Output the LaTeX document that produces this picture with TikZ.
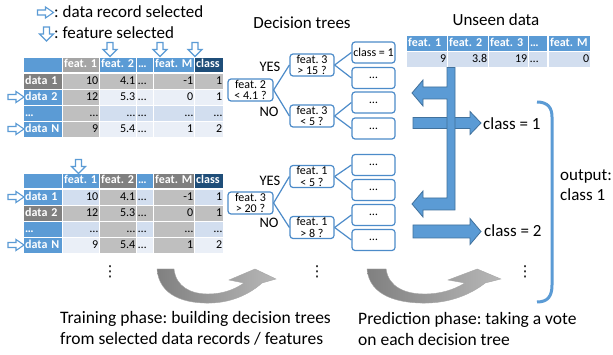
\documentclass[tikz,border=0pt]{standalone}
\usepackage{fontspec}
\setmainfont{Carlito}
\newfontfamily\dvfont{DejaVu Sans}
\definecolor{hb}{HTML}{5B9BD5}
\definecolor{hdk}{HTML}{1F4E79}
\definecolor{hg}{HTML}{A5A5A5}
\definecolor{lg}{HTML}{808080}
\definecolor{cg}{HTML}{BFBFBF}
\definecolor{lo}{HTML}{D2DEEF}
\definecolor{le}{HTML}{EAEFF7}
\definecolor{tb}{HTML}{4C8BC9}
\definecolor{ao}{HTML}{41719C}
\begin{document}
\frenchspacing
\begin{tikzpicture}[x=1pt,y=-1pt,
 tc/.style={anchor=north west, inner xsep=1pt, inner ysep=0pt, minimum height=14.5pt, text height=8.2pt, text depth=2.5pt, font=\fontsize{12}{12}\selectfont},
 k0/.style={minimum width=38pt, text width=36pt, align=left},
 k1/.style={minimum width=36pt, text width=34pt, align=right},
 k2/.style={minimum width=36pt, text width=34pt, align=right},
 k3/.style={minimum width=16pt, text width=14pt, align=left},
 k4/.style={minimum width=40pt, text width=38pt, align=right},
 k5/.style={minimum width=28pt, text width=26pt, align=right},
 u1/.style={minimum width=40pt, text width=38pt, align=right},
 u3/.style={minimum width=39pt, text width=37pt, align=right},
 u4/.style={minimum width=18pt, text width=16pt, align=left},
 u5/.style={minimum width=41pt, text width=39pt, align=right},
 H/.style={fill=#1, text=white, font=\fontsize{12}{12}\selectfont\bfseries, align=left},
 L/.style={fill=#1, text=white, font=\fontsize{12}{12}\selectfont\bfseries},
 V/.style={fill=#1},
 tn/.style={draw=tb, line width=1.2pt, rounded corners=3pt, fill=white, align=center, inner sep=0pt, minimum height=22pt, font=\fontsize{12}{11.5}\selectfont},
 lf/.style={tn, minimum width=43pt, minimum height=21pt},
 te/.style={draw=tb, line width=1.2pt},
 yn/.style={font=\fontsize{14.5}{15}\selectfont, inner sep=0pt},
 big/.style={font=\fontsize{17}{20.5}\selectfont, inner sep=0pt},
 captxt/.style={font=\fontsize{17.5}{21}\selectfont, inner sep=0pt},
 oa/.style={draw=hb, line width=1.1pt, fill=white, line join=miter},
 ba/.style={fill=hb, draw=ao, line width=0.8pt, line join=miter},
 ga/.style={left color=lg, right color=hg!80!white, draw=gray!70, line width=0.4pt},
 dts/.style={font=\dvfont\fontsize{15}{15}\selectfont, inner sep=0pt},
 pics/rarr/.style={code={\draw[oa] (-8,-2.5) -- (0,-2.5) -- (0,-5.5) -- (8,0) -- (0,5.5) -- (0,2.5) -- (-8,2.5) -- cycle;}},
 pics/darr/.style={code={\draw[oa] (-3,-7) -- (3,-7) -- (3,0) -- (7,0) -- (0,7) -- (-7,0) -- (-3,0) -- cycle;}},
]
\useasboundingbox[fill=white] (0,0) rectangle (613,355);

% legend
\pic at (45.5,12.5) {rarr};
\node[big, anchor=west] (leg1) at (54,12) {: data record selected};
\pic at (46.5,34) {darr};
\node[big, anchor=west] (leg2) at (54,33) {: feature selected};

% ---------- table 1 ----------
\pic at (110,49.5) {darr};
\pic at (160,49.5) {darr};
\pic at (195,49.5) {darr};
\pic at (16,97) {rarr};
\pic at (16,129) {rarr};
\node[tc,k0,H=hb] (t1h0) at (24,57.5) {};
\node[tc,k1,H=hg] (t1h1) at (63,57.5) {feat. 1};
\node[tc,k2,H=hb] (t1h2) at (100,57.5) {feat. 2};
\node[tc,k3,H=hb] (t1h3) at (137,57.5) {…};
\node[tc,k4,H=hb] (t1h4) at (154,57.5) {feat. M};
\node[tc,k5,H=hdk] (t1h5) at (195,57.5) {class};
\node[tc,k0,L=lg] (t1a0) at (24,74) {data 1};
\node[tc,k1,V=cg] (t1a1) at (63,74) {10};
\node[tc,k2,V=cg] (t1a2) at (100,74) {4.1};
\node[tc,k3,V=cg] (t1a3) at (137,74) {…};
\node[tc,k4,V=cg] (t1a4) at (154,74) {-1};
\node[tc,k5,V=cg] (t1a5) at (195,74) {1};
\node[tc,k0,L=hb] (t1b0) at (24,90) {data 2};
\node[tc,k1,V=cg] (t1b1) at (63,90) {12};
\node[tc,k2,V=le] (t1b2) at (100,90) {5.3};
\node[tc,k3,V=le] (t1b3) at (137,90) {…};
\node[tc,k4,V=le] (t1b4) at (154,90) {0};
\node[tc,k5,V=le] (t1b5) at (195,90) {1};
\node[tc,k0,L=hb] (t1c0) at (24,106) {…};
\node[tc,k1,V=cg] (t1c1) at (63,106) {…};
\node[tc,k2,V=lo] (t1c2) at (100,106) {…};
\node[tc,k3,V=lo] (t1c3) at (137,106) {…};
\node[tc,k4,V=lo] (t1c4) at (154,106) {…};
\node[tc,k5,V=lo] (t1c5) at (195,106) {…};
\node[tc,k0,L=hb] (t1d0) at (24,122) {data N};
\node[tc,k1,V=cg] (t1d1) at (63,122) {9};
\node[tc,k2,V=le] (t1d2) at (100,122) {5.4};
\node[tc,k3,V=le] (t1d3) at (137,122) {…};
\node[tc,k4,V=le] (t1d4) at (154,122) {1};
\node[tc,k5,V=le] (t1d5) at (195,122) {2};

% ---------- table 2 ----------
\pic at (78.5,166.5) {darr};
\pic at (16,197) {rarr};
\pic at (16,245) {rarr};
\node[tc,k0,H=hb] (t2h0) at (24,173.5) {};
\node[tc,k1,H=hb] (t2h1) at (63,173.5) {feat. 1};
\node[tc,k2,H=lg] (t2h2) at (100,173.5) {feat. 2};
\node[tc,k3,H=hb] (t2h3) at (137,173.5) {…};
\node[tc,k4,H=lg] (t2h4) at (154,173.5) {feat. M};
\node[tc,k5,H=hdk] (t2h5) at (195,173.5) {class};
\node[tc,k0,L=hb] (t2a0) at (24,190) {data 1};
\node[tc,k1,V=lo] (t2a1) at (63,190) {10};
\node[tc,k2,V=cg] (t2a2) at (100,190) {4.1};
\node[tc,k3,V=lo] (t2a3) at (137,190) {…};
\node[tc,k4,V=cg] (t2a4) at (154,190) {-1};
\node[tc,k5,V=lo] (t2a5) at (195,190) {1};
\node[tc,k0,L=lg] (t2b0) at (24,206) {data 2};
\node[tc,k1,V=cg] (t2b1) at (63,206) {12};
\node[tc,k2,V=cg] (t2b2) at (100,206) {5.3};
\node[tc,k3,V=cg] (t2b3) at (137,206) {…};
\node[tc,k4,V=cg] (t2b4) at (154,206) {0};
\node[tc,k5,V=cg] (t2b5) at (195,206) {1};
\node[tc,k0,L=hb] (t2c0) at (24,222) {…};
\node[tc,k1,V=lo] (t2c1) at (63,222) {…};
\node[tc,k2,V=cg] (t2c2) at (100,222) {…};
\node[tc,k3,V=lo] (t2c3) at (137,222) {…};
\node[tc,k4,V=cg] (t2c4) at (154,222) {…};
\node[tc,k5,V=lo] (t2c5) at (195,222) {…};
\node[tc,k0,L=hb] (t2d0) at (24,238) {data N};
\node[tc,k1,V=le] (t2d1) at (63,238) {9};
\node[tc,k2,V=cg] (t2d2) at (100,238) {5.4};
\node[tc,k3,V=le] (t2d3) at (137,238) {…};
\node[tc,k4,V=cg] (t2d4) at (154,238) {1};
\node[tc,k5,V=le] (t2d5) at (195,238) {2};

% ---------- trees ----------
\node[big] (dtitle) at (302,23) {Decision trees};
\node[tn, minimum width=45pt] (r1) at (250.5,90) {feat. 2\\< 4.1 ?};
\node[tn, minimum width=44pt] (m1a) at (312,65) {feat. 3\\> 15 ?};
\node[tn, minimum width=44pt] (m1b) at (312,116) {feat. 3\\< 5 ?};
\node[yn] (yes1) at (270,67) {YES};
\node[yn] (no1) at (269,112) {NO};
\node[lf] (l1) at (373.5,52.5) {class = 1};
\node[lf] (l2) at (373.5,78) {…};
\node[lf] (l3) at (373.5,102.5) {…};
\node[lf] (l4) at (373.5,128.5) {…};
\draw[te] (r1.east) -- (m1a.west);
\draw[te] (r1.east) -- (m1b.west);
\draw[te] (m1a.east) -- (l1.west);
\draw[te] (m1a.east) -- (l2.west);
\draw[te] (m1b.east) -- (l3.west);
\draw[te] (m1b.east) -- (l4.west);

\node[tn, minimum width=45pt] (r2) at (250.5,203) {feat. 3\\> 20 ?};
\node[tn, minimum width=44pt] (m2a) at (312,176.5) {feat. 1\\< 5 ?};
\node[tn, minimum width=44pt] (m2b) at (312,227.5) {feat. 1\\> 8 ?};
\node[yn] (yes2) at (270,181) {YES};
\node[yn] (no2) at (269,223) {NO};
\node[lf] (l5) at (373.5,165) {…};
\node[lf] (l6) at (373.5,190) {…};
\node[lf] (l7) at (373.5,215) {…};
\node[lf] (l8) at (373.5,240) {…};
\draw[te] (r2.east) -- (m2a.west);
\draw[te] (r2.east) -- (m2b.west);
\draw[te] (m2a.east) -- (l5.west);
\draw[te] (m2a.east) -- (l6.west);
\draw[te] (m2b.east) -- (l7.west);
\draw[te] (m2b.east) -- (l8.west);

% ---------- unseen data ----------
\node[big] (utitle) at (496,20) {Unseen data};
\node[tc,u1,H=hb] (uh1) at (407,36) {feat. 1};
\node[tc,u1,H=hb] (uh2) at (448,36) {feat. 2};
\node[tc,u3,H=hb] (uh3) at (489,36) {feat. 3};
\node[tc,u4,H=hb] (uh4) at (529,36) {…};
\node[tc,u5,H=hb] (uh5) at (549,36) {feat. M};
\node[tc,u1,V=lo] (uv1) at (407,52) {9};
\node[tc,u1,V=lo] (uv2) at (448,52) {3.8};
\node[tc,u3,V=lo] (uv3) at (489,52) {19};
\node[tc,u4,V=lo] (uv4) at (529,52) {…};
\node[tc,u5,V=lo] (uv5) at (549,52) {0};

% right arrows (votes)
\draw[ba] (413,117.5) -- (470,117.5) -- (470,111.5) -- (481,123) -- (470,134.5) -- (470,128.5) -- (413,128.5) -- cycle;
\draw[ba] (413,225) -- (470,225) -- (470,218.5) -- (481,231.5) -- (470,244.5) -- (470,238) -- (413,238) -- cycle;
% distribution arrow
\draw[ba] (447,67.5) -- (455,67.5) -- (455,210) -- (423,210) -- (423,217) -- (412,204) -- (423,191) -- (423,198) -- (447,198) -- (447,99) -- (423,99) -- (423,106) -- (412,93) -- (423,80) -- (423,87) -- (447,87) -- cycle;

\node[big, anchor=west] (c1) at (483,124) {class = 1};
\node[big, anchor=west] (c2) at (484,231) {class = 2};

% bracket
\draw[hb, line width=3pt] (537,102) .. controls (548,102) and (552,108) .. (552,117) -- (552,285) .. controls (552,296) and (548,302) .. (537,302);
\node[big, anchor=west, align=left] (out) at (560,185) {output:\\class 1};

% vertical dots
\node[dts] (d1) at (110,272) {⋮};
\node[dts] (d2) at (317,272) {⋮};
\node[dts] (d3) at (525,272) {⋮};

% gray curved arrows
\begin{scope}[shift={(157,0)}]
\path[ga] (0,269) .. controls (2,296) and (28,304) .. (55,303) .. controls (78,302) and (95,292) .. (105,283) -- (119,279) -- (98,269) -- (72,280) -- (87,283) .. controls (77,290) and (65,294) .. (51,294) .. controls (34,294) and (19,287) .. (17,269) -- cycle;
\end{scope}
\begin{scope}[shift={(367,0)}, xscale=1.125]
\path[ga] (0,269) .. controls (2,296) and (28,304) .. (55,303) .. controls (78,302) and (95,292) .. (105,283) -- (119,279) -- (98,269) -- (72,280) -- (87,283) .. controls (77,290) and (65,294) .. (51,294) .. controls (34,294) and (19,287) .. (17,269) -- cycle;
\end{scope}

% captions
\node[captxt, anchor=west, align=left] (train) at (60,328.5) {Training phase: building decision trees\\from selected data records / features};
\node[captxt, anchor=west, align=left] (pred) at (358,328.5) {Prediction phase: taking a vote\\on each decision tree};
\end{tikzpicture}
\end{document}
